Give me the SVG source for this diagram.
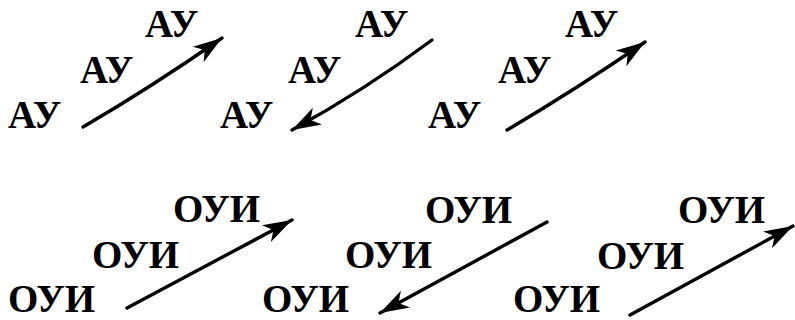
<svg xmlns="http://www.w3.org/2000/svg" width="795" height="320" viewBox="0 0 795 320">
<defs>
<style>
text{font-family:"Liberation Serif","Times New Roman",serif;font-weight:bold;font-size:39px;fill:#000}
.c path{fill:none;stroke:#000;stroke-width:3.4;stroke-linecap:round}
</style>
<marker id="ah" markerUnits="userSpaceOnUse" markerWidth="40" markerHeight="30" viewBox="-2 -15 40 30" refX="28" refY="0" orient="auto">
<path d="M28,0 L-1,-9.5 L7,0 L-1,9.5 Z" fill="#000"/>
</marker>
</defs>
<rect width="795" height="320" fill="#fff"/>
<g id="t1"><text x="8" y="128">АУ</text><text x="80" y="83">АУ</text><text x="145" y="37">АУ</text></g>
<g id="t2"><text x="220" y="128">АУ</text><text x="288" y="83">АУ</text><text x="355" y="37">АУ</text></g>
<g id="t3"><text x="428" y="128">АУ</text><text x="498" y="83">АУ</text><text x="565" y="37">АУ</text></g>
<g id="b1"><text x="8" y="312">ОУИ</text><text x="92" y="268">ОУИ</text><text x="173" y="222">ОУИ</text></g>
<g id="b2"><text x="262" y="312">ОУИ</text><text x="345" y="268">ОУИ</text><text x="425" y="223">ОУИ</text></g>
<g id="b3"><text x="513" y="312">ОУИ</text><text x="597" y="269">ОУИ</text><text x="678" y="223">ОУИ</text></g>
<g class="c" id="connectors">
<path d="M83,127 Q150,88 222,38" marker-end="url(#ah)"/>
<path d="M432,40 Q365,90 292,130" marker-end="url(#ah)"/>
<path d="M507,130 Q575,90 645,42" marker-end="url(#ah)"/>
<path d="M127,308 L292,220" marker-end="url(#ah)"/>
<path d="M547,222 L380,313" marker-end="url(#ah)"/>
<path d="M630,315 L793,226" marker-end="url(#ah)"/>
</g>
</svg>
